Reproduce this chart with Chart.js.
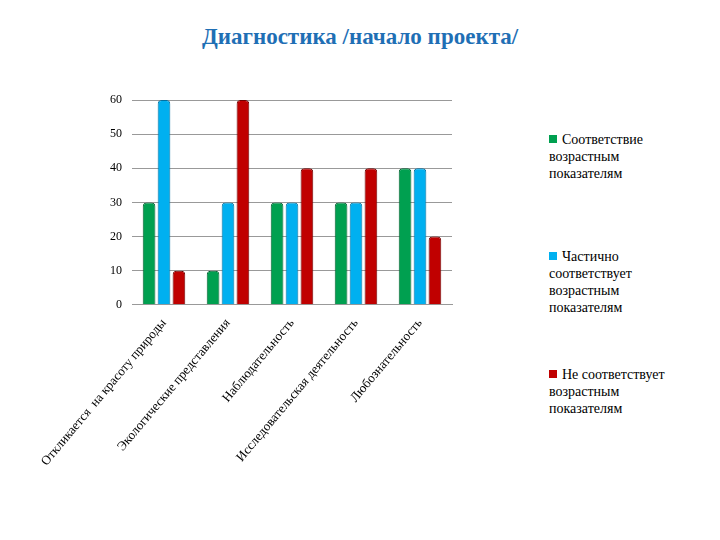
<!DOCTYPE html>
<html><head><meta charset="utf-8">
<script src="https://cdn.jsdelivr.net/npm/chart.js@4"></script>
<style>
body{margin:0;background:#fff;width:720px;height:540px;position:relative;overflow:hidden}
#t{position:absolute;top:24px;left:0;width:720px;text-align:center;font:bold 23px "Liberation Serif";color:#1F6FB5}
.lg{position:absolute;left:549px;font:14px "Liberation Serif";color:#000;line-height:17px}
.lg span{display:inline-block;width:8px;height:8px;margin-right:5px;vertical-align:1px}
#c{position:absolute;left:0;top:0}
</style></head><body>
<div id="t">Диагностика /начало проекта/</div>
<div class="lg" style="top:131px"><span style="background:#00A050"></span>Соответствие<br>возрастным<br>показателям</div>
<div class="lg" style="top:248px"><span style="background:#00B0F0"></span>Частично<br>соответствует<br>возрастным<br>показателям</div>
<div class="lg" style="top:366px"><span style="background:#C00000"></span>Не соответствует<br>возрастным<br>показателям</div>
<canvas id="c" width="720" height="540"></canvas>
<script>
const categories=["Откликается  на красоту природы","Экологические представления","Наблюдательность","Исследовательская деятельность","Любознательность"];
const seriesNames=["Соответствие возрастным показателям","Частично соответствует возрастным показателям","Не соответствует возрастным показателям"];
const green=[30,10,30,30,40];
const blue=[60,30,30,30,40];
const red=[10,60,40,40,20];
const yTicks=[0,10,20,30,40,50,60];
const cols=["#00A050","#00B0F0","#C00000"],borders=["#006030","#0070A0","#700000"];
new Chart(document.getElementById('c'),{type:'bar',
data:{labels:categories,datasets:[green,blue,red].map((d,i)=>({label:seriesNames[i],data:d,backgroundColor:cols[i],borderColor:borders[i],borderWidth:1,borderRadius:{topLeft:4,topRight:4},borderSkipped:'bottom',categoryPercentage:0.7,barPercentage:0.85}))},
options:{responsive:false,animation:false,
layout:{padding:{left:100,right:268,top:100,bottom:68}},
plugins:{legend:{display:false},tooltip:{enabled:false}},
scales:{y:{min:0,max:60,afterBuildTicks:a=>{a.ticks=yTicks.map(v=>({value:v}))},ticks:{color:'#000',font:{family:'Liberation Serif',size:12},padding:10},grid:{color:'#999',drawTicks:false},border:{display:false}},
x:{ticks:{color:'#000',font:{family:'Liberation Serif',size:13},minRotation:50,maxRotation:50},grid:{display:false},border:{color:'#999'}}}}});
</script></body></html>
